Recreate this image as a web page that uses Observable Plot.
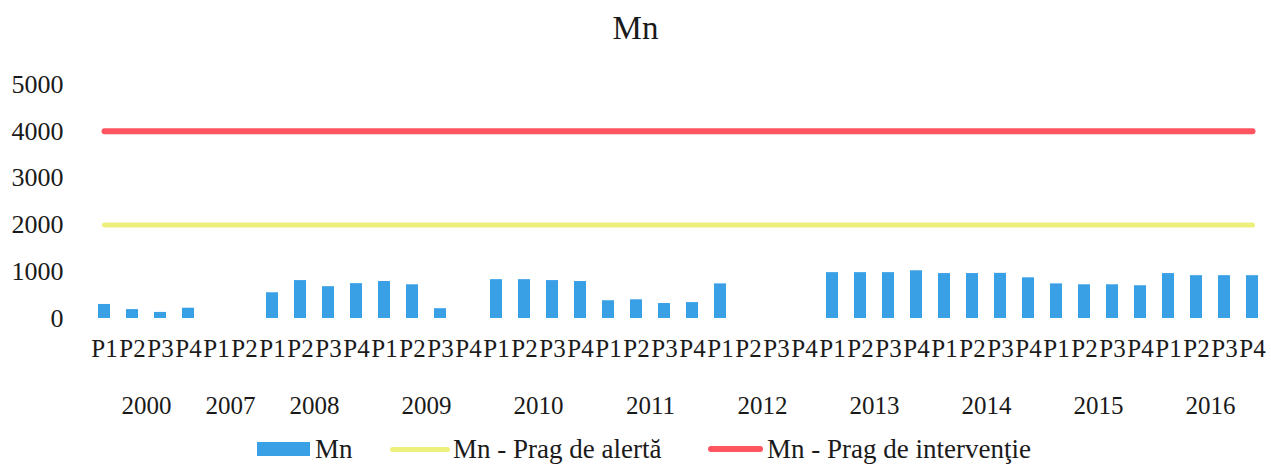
<!DOCTYPE html>
<html>
<head>
<meta charset="utf-8">
<script src="https://cdn.jsdelivr.net/npm/d3@7"></script>
<script src="https://cdn.jsdelivr.net/npm/@observablehq/plot@0.6"></script>
<style>
  body { margin: 0; background: #fff; font-family: "Liberation Serif", "Times New Roman", "DejaVu Serif", serif; color: #1a1a1a; }
  #title { height: 56px; line-height: 56px; text-align: center; font-size: 33px; }
  #legend { position: relative; height: 46px; font-size: 27px; }
  .item { position: absolute; top: 0; height: 46px; display: flex; align-items: center; white-space: nowrap; }
  .sw { display: inline-block; }
</style>
</head>
<body>
<div id="title">Mn</div>
<div id="chart"></div>
<div id="legend"></div>
<script>
const years = ["2000","2007","2008","2009","2010","2011","2012","2013","2014","2015","2016"];
const periodCounts = [4,2,4,4,4,4,4,4,4,4,4];
const periods = ["P1","P2","P3","P4"];
const mnValues = [
  300,190,130,220,
  null,null,
  550,810,680,745,
  790,720,210,null,
  830,830,810,790,
  380,400,320,340,
  740,null,null,null,
  980,980,980,1020,
  960,960,965,870,
  740,720,720,700,
  960,915,915,915
];
const alertThreshold = 2000;
const interventionThreshold = 4000;
const yTicks = [0,1000,2000,3000,4000,5000];
const seriesNames = ["Mn", "Mn - Prag de alertă", "Mn - Prag de intervenţie"];
const colors = ["#3aa0e6", "#eef07e", "#ff5560"];
const serif = "'Liberation Serif', 'Times New Roman', 'DejaVu Serif', serif";

const rows = [];
const yearMarks = [];
let idx = 0;
years.forEach((year, i) => {
  const n = periodCounts[i];
  for (let j = 0; j < n; j++) {
    rows.push({key: year + "-" + periods[j], year, period: periods[j], value: mnValues[idx]});
    idx++;
  }
  yearMarks.push({year, key: year + "-" + periods[n / 2 - 1]});
});
const keys = rows.map(d => d.key);

const width = 1271, height = 370;
const marginLeft = 90, marginRight = 5, marginTop = 28, marginBottom = 108;
const step = (width - marginLeft - marginRight) / keys.length;

const plot = Plot.plot({
  width, height, marginLeft, marginRight, marginTop, marginBottom,
  style: {fontFamily: serif, fontSize: "24px", color: "#1a1a1a", background: "white"},
  x: {type: "band", domain: keys, padding: 0, label: null},
  y: {domain: [0, 5000], label: null},
  marks: [
    Plot.axisY({ticks: yTicks, tickFormat: d => String(d), tickSize: 0, tickPadding: 27, fontSize: 26, fontFamily: serif, label: null}),
    Plot.axisX({tickSize: 0, tickPadding: 21, fontSize: 25, fontFamily: serif, tickFormat: k => k.split("-")[1], label: null}),
    Plot.barY(rows.filter(d => d.value != null), {x: "key", y: "value", fill: colors[0], insetLeft: 8, insetRight: 8}),
    Plot.lineY(rows, {x: "key", y: () => alertThreshold, stroke: colors[1], strokeWidth: 5, strokeLinecap: "round"}),
    Plot.lineY(rows, {x: "key", y: () => interventionThreshold, stroke: colors[2], strokeWidth: 6, strokeLinecap: "round"}),
    Plot.text(yearMarks, {x: "key", text: "year", frameAnchor: "bottom", lineAnchor: "top", dx: step / 2, dy: 78, fontSize: 25, fontFamily: serif, fill: "#1a1a1a"})
  ]
});
document.getElementById("chart").appendChild(plot);

const legend = document.getElementById("legend");
const legendItems = [
  {name: seriesNames[0], color: colors[0], left: 257, w: 53, h: 14, gap: 5},
  {name: seriesNames[1], color: colors[1], left: 390, w: 60, h: 5, gap: 3},
  {name: seriesNames[2], color: colors[2], left: 708, w: 55, h: 6, gap: 4}
];
legendItems.forEach(it => {
  const el = document.createElement("div");
  el.className = "item";
  el.style.left = it.left + "px";
  const sw = document.createElement("span");
  sw.className = "sw";
  sw.style.width = it.w + "px";
  sw.style.height = it.h + "px";
  sw.style.marginRight = it.gap + "px";
  sw.style.background = it.color;
  if (it.h < 10) sw.style.borderRadius = "3px";
  el.appendChild(sw);
  el.appendChild(document.createTextNode(it.name));
  legend.appendChild(el);
});
</script>
</body>
</html>
